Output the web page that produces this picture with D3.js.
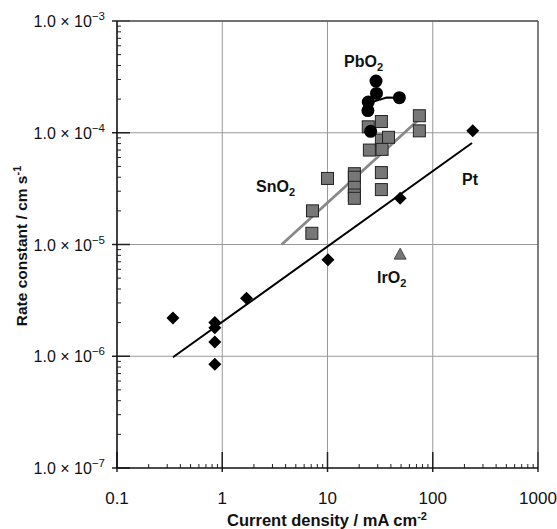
<!DOCTYPE html>
<html><head><meta charset="utf-8">
<script src="https://cdn.jsdelivr.net/npm/d3@7"></script>
<style>body{margin:0;background:#fff}svg{display:block}</style>
</head><body>
<svg id="c" width="557" height="529"></svg>
<script>
const xTicks = [0.1, 1, 10, 100, 1000];
const xTickLabels = ["0.1", "1", "10", "100", "1000"];
const yTicks = [1e-7, 1e-6, 1e-5, 1e-4, 1e-3];
const yTickExp = ["−7", "−6", "−5", "−4", "−3"];

const ptX = [0.34, 0.85, 0.85, 0.85, 0.85, 1.7, 10.1, 49, 240];
const ptY = [2.2e-6, 2.0e-6, 1.8e-6, 1.34e-6, 8.5e-7, 3.3e-6, 7.3e-6, 2.6e-5, 1.04e-4];
const ptLineX = [0.34, 236];
const ptLineY = [9.8e-7, 8.1e-5];

const snX = [7.2, 7.1, 10.0, 18, 18, 18, 18, 18, 24.4, 25, 32.5, 32.5, 33, 38, 32.5, 32.5, 74.6, 74.6];
const snY = [2.0e-5, 1.26e-5, 3.9e-5, 4.3e-5, 4.0e-5, 3.25e-5, 2.77e-5, 2.59e-5, 1.13e-4, 7.0e-5, 1.26e-4, 8.6e-5, 7.1e-5, 9.1e-5, 4.4e-5, 3.1e-5, 1.42e-4, 1.04e-4];
const snLineX = [3.67, 73];
const snLineY = [1.0e-5, 1.3e-4];

const pbX = [28.9, 29.2, 24.4, 24.2, 25.7, 48.2];
const pbY = [2.9e-4, 2.25e-4, 1.88e-4, 1.58e-4, 1.03e-4, 2.06e-4];
const pbLineX = [24.6, 36.5, 48.2];
const pbLineY = [1.84e-4, 2.07e-4, 2.06e-4];

const irX = [49];
const irY = [8.2e-6];

const svg = d3.select("#c");
const x = d3.scaleLog().domain([0.1, 1000]).range([117, 538]);
const y = d3.scaleLog().domain([1e-7, 1e-3]).range([468, 21]);
const F = "Liberation Sans, Arial, sans-serif";

// grid
const g = svg.append("g");
g.selectAll(".gx").data(xTicks.slice(1)).join("line")
  .attr("x1", d => x(d)).attr("x2", d => x(d)).attr("y1", y(1e-3)).attr("y2", y(1e-7))
  .attr("stroke", "#999").attr("stroke-width", 1);
g.selectAll(".gy").data(yTicks.slice(1)).join("line")
  .attr("y1", d => y(d)).attr("y2", d => y(d)).attr("x1", x(0.1)).attr("x2", x(1000))
  .attr("stroke", "#999").attr("stroke-width", 1);

// minor ticks
const minors = (lo, hi) => { const a = []; for (let e = lo; e < hi; e++) for (let m = 2; m <= 9; m++) a.push(m * Math.pow(10, e)); return a; };
g.selectAll(".mx").data(minors(-1, 3)).join("line")
  .attr("x1", d => x(d)).attr("x2", d => x(d)).attr("y1", y(1e-7)).attr("y2", y(1e-7) - 4)
  .attr("stroke", "#222").attr("stroke-width", 1);
g.selectAll(".my").data(minors(-7, -3)).join("line")
  .attr("y1", d => y(d)).attr("y2", d => y(d)).attr("x1", x(0.1)).attr("x2", x(0.1) + 4)
  .attr("stroke", "#222").attr("stroke-width", 1);
// major tick segments
g.selectAll(".Mx").data(xTicks).join("line")
  .attr("x1", d => x(d)).attr("x2", d => x(d)).attr("y1", y(1e-7) + 4).attr("y2", y(1e-7) - 16)
  .attr("stroke", "#222").attr("stroke-width", 1.5);
g.selectAll(".My").data(yTicks).join("line")
  .attr("y1", d => y(d)).attr("y2", d => y(d)).attr("x1", x(0.1) - 5).attr("x2", x(0.1) + 13)
  .attr("stroke", "#222").attr("stroke-width", 1.5);

// frame
g.append("line").attr("x1", x(0.1)).attr("x2", x(1000)).attr("y1", y(1e-3)).attr("y2", y(1e-3)).attr("stroke", "#555").attr("stroke-width", 1.3);
g.append("line").attr("x1", x(1000)).attr("x2", x(1000)).attr("y1", y(1e-3)).attr("y2", y(1e-7)).attr("stroke", "#555").attr("stroke-width", 1.3);
g.append("line").attr("x1", x(0.1)).attr("x2", x(1000)).attr("y1", y(1e-7)).attr("y2", y(1e-7)).attr("stroke", "#111").attr("stroke-width", 1.6);
g.append("line").attr("x1", x(0.1)).attr("x2", x(0.1)).attr("y1", y(1e-3)).attr("y2", y(1e-7)).attr("stroke", "#111").attr("stroke-width", 1.6);

// tick labels
g.selectAll(".xl").data(xTicks).join("text")
  .attr("x", d => x(d)).attr("y", 504).attr("text-anchor", "middle")
  .attr("font-family", F).attr("font-size", 17).attr("fill", "#111")
  .text((d, i) => xTickLabels[i]);
const yl = g.selectAll(".yl").data(yTicks).join("text")
  .attr("x", 105).attr("y", d => y(d) + 6).attr("text-anchor", "end")
  .attr("font-family", F).attr("font-size", 16).attr("fill", "#111");
yl.append("tspan").text("1.0 × 10");
yl.append("tspan").attr("dy", -7).attr("font-size", 11.5).text((d, i) => yTickExp[i]);

// axis titles
const xt = svg.append("text").attr("x", 327).attr("y", 526).attr("text-anchor", "middle")
  .attr("font-family", F).attr("font-size", 16.5).attr("font-weight", "bold").attr("fill", "#111");
xt.append("tspan").text("Current density / mA cm");
xt.append("tspan").attr("dy", -6).attr("font-size", 11).text("-2");
const yt = svg.append("text").attr("transform", "translate(27,246) rotate(-90)").attr("text-anchor", "middle")
  .attr("font-family", F).attr("font-size", 15.5).attr("font-weight", "bold").attr("fill", "#111");
yt.append("tspan").text("Rate constant / cm s");
yt.append("tspan").attr("dy", -6).attr("font-size", 11).text("-1");

// lines
const ln = d3.line().x(d => x(d[0])).y(d => y(d[1]));
svg.append("path").attr("d", ln(d3.zip(ptLineX, ptLineY))).attr("stroke", "#000").attr("stroke-width", 2).attr("fill", "none");
svg.append("path").attr("d", ln(d3.zip(snLineX, snLineY))).attr("stroke", "#888").attr("stroke-width", 2.8).attr("fill", "none");

// markers
svg.selectAll(".sn").data(d3.zip(snX, snY)).join("rect")
  .attr("x", d => x(d[0]) - 6).attr("y", d => y(d[1]) - 6).attr("width", 12).attr("height", 12)
  .attr("fill", "#777").attr("stroke", "#222").attr("stroke-width", 1);
svg.selectAll(".pt").data(d3.zip(ptX, ptY)).join("path")
  .attr("transform", d => `translate(${x(d[0])},${y(d[1])})`)
  .attr("d", "M0,-6.5L6.5,0L0,6.5L-6.5,0Z").attr("fill", "#000");
svg.append("path").attr("d", ln(d3.zip(pbLineX, pbLineY))).attr("stroke", "#000").attr("stroke-width", 2).attr("fill", "none");
svg.selectAll(".pb").data(d3.zip(pbX, pbY)).join("circle")
  .attr("cx", d => x(d[0])).attr("cy", d => y(d[1])).attr("r", 6.5).attr("fill", "#000");
svg.selectAll(".ir").data(d3.zip(irX, irY)).join("path")
  .attr("transform", d => `translate(${x(d[0])},${y(d[1])})`)
  .attr("d", "M0,-6L6,5L-6,5Z").attr("fill", "#777").attr("stroke", "#333").attr("stroke-width", 0.8);

// series labels
const lab = (tx, ty, main, sub) => {
  const t = svg.append("text").attr("x", tx).attr("y", ty).attr("font-family", F)
    .attr("font-size", 16).attr("font-weight", "bold").attr("fill", "#111");
  t.append("tspan").text(main);
  if (sub) t.append("tspan").attr("dy", 4).attr("font-size", 11).text(sub);
};
lab(344, 67, "PbO", "2");
lab(256, 192, "SnO", "2");
lab(462, 185, "Pt", "");
lab(377, 283, "IrO", "2");
</script>
</body></html>
